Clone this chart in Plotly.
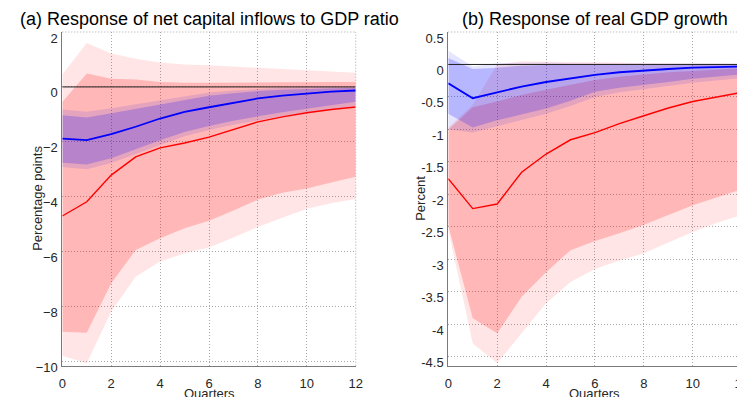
import plotly.graph_objects as go

quarters = list(range(13))

# Panel (a): net capital inflows to GDP ratio
a_red_line = [-4.70, -4.18, -3.21, -2.55, -2.22, -2.04, -1.83, -1.55, -1.27, -1.09, -0.94, -0.82, -0.73]
a_red_outer_up = [0.45, 1.60, 1.22, 1.03, 0.89, 0.82, 0.79, 0.74, 0.70, 0.65, 0.61, 0.56, 0.52]
a_red_outer_lo = [-9.79, -10.06, -8.18, -6.91, -6.36, -6.06, -5.85, -5.48, -5.10, -4.76, -4.44, -4.24, -4.08]
a_red_inner_up = [-0.55, 0.49, 0.30, 0.27, 0.18, 0.15, 0.15, 0.16, 0.17, 0.17, 0.18, 0.18, 0.18]
a_red_inner_lo = [-8.91, -8.95, -7.15, -5.94, -5.51, -5.15, -4.87, -4.50, -4.10, -3.85, -3.70, -3.48, -3.27]
a_blue_line = [-1.88, -1.94, -1.72, -1.45, -1.15, -0.91, -0.74, -0.57, -0.42, -0.32, -0.24, -0.17, -0.13]
a_blue_outer_up = [-0.82, -0.90, -0.78, -0.63, -0.48, -0.34, -0.20, -0.13, -0.07, -0.03, -0.01, 0.00, 0.01]
a_blue_outer_lo = [-2.92, -3.00, -2.77, -2.44, -2.11, -1.80, -1.57, -1.38, -1.22, -1.06, -0.93, -0.80, -0.69]
a_blue_inner_up = [-1.03, -1.11, -0.96, -0.80, -0.63, -0.48, -0.32, -0.23, -0.15, -0.10, -0.07, -0.05, -0.03]
a_blue_inner_lo = [-2.76, -2.82, -2.60, -2.28, -1.94, -1.64, -1.42, -1.23, -1.07, -0.92, -0.79, -0.66, -0.54]

# Panel (b): real GDP growth
b_red_line = [-1.76, -2.22, -2.15, -1.66, -1.38, -1.16, -1.05, -0.91, -0.79, -0.67, -0.57, -0.50, -0.43]
b_red_outer_up = [-0.97, -0.62, 0.00, 0.05, 0.04, 0.04, 0.03, 0.03, 0.02, 0.02, 0.02, 0.02, 0.01]
b_red_outer_lo = [-2.55, -4.30, -4.60, -4.14, -3.68, -3.35, -3.15, -3.02, -2.91, -2.75, -2.58, -2.44, -2.32]
b_red_inner_up = [-1.00, -0.66, -0.57, -0.47, -0.39, -0.32, -0.24, -0.19, -0.15, -0.12, -0.10, -0.08, -0.06]
b_red_inner_lo = [-2.48, -3.91, -4.14, -3.58, -3.20, -2.86, -2.72, -2.60, -2.47, -2.32, -2.17, -2.04, -1.92]
b_blue_line = [-0.29, -0.52, -0.43, -0.34, -0.27, -0.21, -0.16, -0.12, -0.09, -0.07, -0.05, -0.04, -0.03]
b_blue_outer_up = [0.21, -0.03, 0.02, 0.03, 0.03, 0.02, 0.02, 0.02, 0.02, 0.01, 0.01, 0.01, 0.01]
b_blue_outer_lo = [-1.00, -1.05, -0.95, -0.85, -0.76, -0.64, -0.50, -0.43, -0.38, -0.33, -0.28, -0.24, -0.21]
b_blue_inner_up = [0.10, -0.07, -0.05, -0.02, -0.01, -0.01, 0.00, 0.00, 0.00, 0.00, 0.00, 0.00, 0.00]
b_blue_inner_lo = [-0.76, -0.97, -0.86, -0.77, -0.68, -0.56, -0.42, -0.36, -0.31, -0.27, -0.22, -0.18, -0.15]

x_ticks = [0, 2, 4, 6, 8, 10, 12]
a_y_ticks = [-10, -8, -6, -4, -2, 0, 2]
b_y_ticks = [-4.5, -4, -3.5, -3, -2.5, -2, -1.5, -1, -0.5, 0, 0.5]
b_y_labels = ["-4.5", "-4", "-3.5", "-3", "-2.5", "-2", "-1.5", "-1", "-0.5", "0", "0.5"]

titles = ["(a) Response of net capital inflows to GDP ratio", "(b) Response of real GDP growth"]
y_titles = ["Percentage points", "Percent"]
x_title = "Quarters"

fig = go.Figure()


def band(lo, up, color, xa, ya):
    fig.add_trace(go.Scatter(
        x=quarters + quarters[::-1], y=up + lo[::-1], fill="toself",
        fillcolor=color, line=dict(width=0), mode="lines",
        hoverinfo="skip", showlegend=False, xaxis=xa, yaxis=ya))


def line(y, color, width, xa, ya):
    fig.add_trace(go.Scatter(x=quarters, y=y, mode="lines",
                             line=dict(color=color, width=width),
                             showlegend=False, xaxis=xa, yaxis=ya))


panels = [
    ("x", "y", a_red_outer_lo, a_red_outer_up, a_red_inner_lo, a_red_inner_up,
     a_blue_outer_lo, a_blue_outer_up, a_blue_inner_lo, a_blue_inner_up, a_red_line, a_blue_line),
    ("x2", "y2", b_red_outer_lo, b_red_outer_up, b_red_inner_lo, b_red_inner_up,
     b_blue_outer_lo, b_blue_outer_up, b_blue_inner_lo, b_blue_inner_up, b_red_line, b_blue_line),
]

for (xa, ya, rol, rou, ril, riu, bol, bou, bil, biu, rl, bl) in panels:
    band(rol, rou, "rgba(255,0,0,0.10)", xa, ya)
    band(ril, riu, "rgba(255,0,0,0.20)", xa, ya)
    band(bol, bou, "rgba(0,0,255,0.10)", xa, ya)
    band(bil, biu, "rgba(0,0,255,0.20)", xa, ya)
    line([0] * len(quarters), "#222222", 1, xa, ya)
    line(rl, "#ff0000", 1.4, xa, ya)
    line(bl, "#0000ff", 1.8, xa, ya)

tickfont = dict(family="Liberation Sans, Arial, sans-serif", size=13, color="#262626")
grid_dash = "1px,2px"
common_x = dict(range=[0, 12], tickvals=x_ticks, showgrid=True, gridcolor="#a8a8a8",
                griddash=grid_dash, gridwidth=1, showline=True, linecolor="#7a7a7a",
                linewidth=1, zeroline=False, ticks="", tickfont=tickfont,
                ticklabelstandoff=6, automargin=False, ticklabeloverflow="allow")
common_y = dict(showgrid=True, gridcolor="#a8a8a8", griddash=grid_dash, gridwidth=1,
                showline=True, linecolor="#7a7a7a", linewidth=1, zeroline=False,
                ticks="", tickfont=tickfont, ticklabelshift=6, ticklabelstandoff=1,
                automargin=False, ticklabeloverflow="allow")

# page body has an 8px margin, so the figure is sized and laid out accordingly
W, H = 737, 389
ydom = [0.0805, 0.9383]
fig.update_layout(
    width=W, height=H, margin=dict(l=0, r=0, t=0, b=0, autoexpand=False),
    paper_bgcolor="white", plot_bgcolor="white", showlegend=False,
    xaxis=dict(domain=[0.0737, 0.4718], anchor="y", **common_x),
    yaxis=dict(domain=ydom, anchor="x", range=[-10.15, 2], tickvals=a_y_ticks, **common_y),
    xaxis2=dict(domain=[0.5974, 0.9955], anchor="y2", **common_x),
    yaxis2=dict(domain=ydom, anchor="x2", range=[-4.64, 0.5], tickvals=b_y_ticks,
                ticktext=b_y_labels, **common_y),
)

# dotted top/right borders
for xa, ya in [("x", "y"), ("x2", "y2")]:
    fig.add_shape(type="line", xref=f"{xa} domain", yref=f"{ya} domain", x0=0, x1=1, y0=1, y1=1,
                  line=dict(color="#a8a8a8", width=1, dash=grid_dash))
    fig.add_shape(type="line", xref=f"{xa} domain", yref=f"{ya} domain", x0=1, x1=1, y0=0, y1=1,
                  line=dict(color="#a8a8a8", width=1, dash=grid_dash))

titlefont = dict(family="Liberation Sans, Arial, sans-serif", size=18, color="#000000")
labfont = dict(family="Liberation Sans, Arial, sans-serif", size=13, color="#262626")
for i, xa in enumerate(["x", "x2"]):
    fig.add_annotation(text=titles[i], xref=f"{xa} domain", x=0.5, yref="paper", y=1 - 11 / H,
                       yanchor="middle", xanchor="center", showarrow=False, font=titlefont)
    fig.add_annotation(text=x_title, xref=f"{xa} domain", x=0.5, yref="paper", y=1 - 385 / H,
                       yanchor="middle", xanchor="center", showarrow=False, font=labfont)
fig.add_annotation(text=y_titles[0], xref="paper", x=30 / W, yref="y domain", y=0.5,
                   textangle=-90, xanchor="center", yanchor="middle", showarrow=False, font=labfont)
fig.add_annotation(text=y_titles[1], xref="paper", x=413 / W, yref="y2 domain", y=0.5,
                   textangle=-90, xanchor="center", yanchor="middle", showarrow=False, font=labfont)

fig.write_html("out.html")
